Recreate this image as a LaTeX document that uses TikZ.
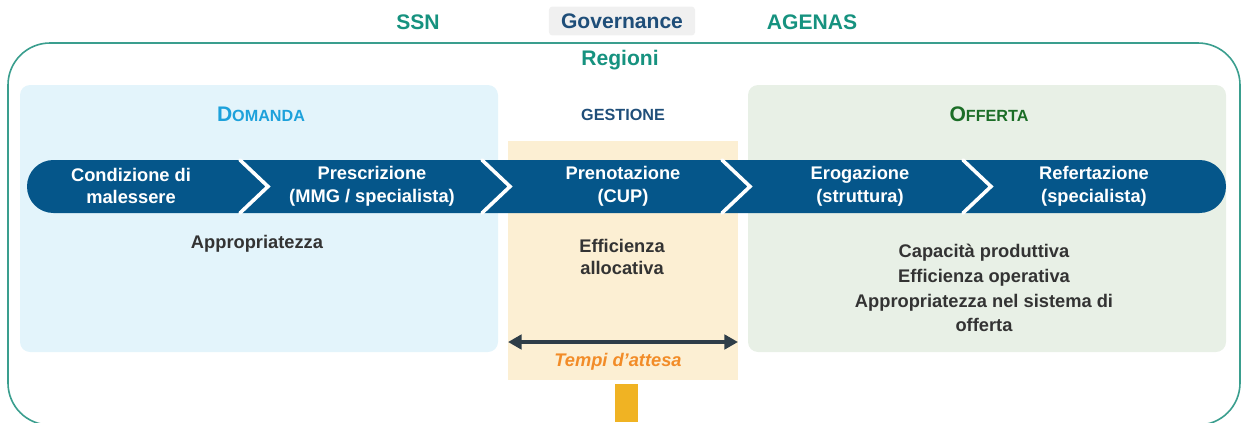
\documentclass[tikz,border=0pt]{standalone}
\usepackage{fontspec}
\setmainfont{Liberation Sans}
\usepackage{tikz}
\usetikzlibrary{arrows.meta}

\definecolor{ssnteal}{HTML}{16927F}
\definecolor{framegreen}{HTML}{3A9E8E}
\definecolor{govblue}{HTML}{1F4E79}
\definecolor{govgray}{HTML}{F0F0F0}
\definecolor{domblue}{HTML}{E3F4FB}
\definecolor{domtitle}{HTML}{1DA1DB}
\definecolor{offgreen}{HTML}{E8F0E6}
\definecolor{offtitle}{HTML}{1C6E27}
\definecolor{gestyellow}{HTML}{FCEFD3}
\definecolor{bandblue}{HTML}{05568A}
\definecolor{textgray}{HTML}{333333}
\definecolor{arrowdark}{HTML}{2E3D48}
\definecolor{tempiorange}{HTML}{F28C28}
\definecolor{baryellow}{HTML}{F0B323}

\begin{document}
\begin{tikzpicture}[x=0.025cm,y=-0.025cm,
  stage/.style={text=white,font=\fontsize{13}{16.3}\selectfont\bfseries,align=center},
  bodytext/.style={text=textgray,font=\fontsize{13}{17.7}\selectfont\bfseries,align=center},
  topname/.style={font=\fontsize{15}{18}\selectfont\bfseries},
  chevron/.style={white,line width=0.09cm,line cap=round}]
\clip (0,0) rectangle (1245,422);

% governance frame
\draw[framegreen, line width=0.04cm, rounded corners=1.05cm] (8,43) rectangle (1240,425);
\node[topname,text=ssnteal] (ssn) at (418,22) {SSN};
\node[topname,text=govblue,fill=govgray,rounded corners=0.08cm,minimum width=3.65cm,minimum height=0.72cm] (gov) at (622,21) {Governance};
\node[topname,text=ssnteal] (agenas) at (812,22) {AGENAS};
\node[topname,text=ssnteal] (regioni) at (620,60) {Regioni};

% the three areas
\fill[domblue, rounded corners=0.25cm] (20,85) rectangle (498,352);
\fill[offgreen, rounded corners=0.25cm] (748,85) rectangle (1226,352);
\fill[gestyellow] (508,141) rectangle (738,380);
\node[text=domtitle,font=\bfseries] (domanda) at (261,114) {\fontsize{15}{18}\selectfont D\fontsize{11.5}{14}\selectfont OMANDA};
\node[text=govblue,font=\fontsize{11.5}{14}\selectfont\bfseries] (gestione) at (623,115) {GESTIONE};
\node[text=offtitle,font=\bfseries] (offerta) at (989,114) {\fontsize{15}{18}\selectfont O\fontsize{11.5}{14}\selectfont FFERTA};

% process band
\fill[bandblue, rounded corners=0.66cm] (27,160) rectangle (1226,213);
\foreach \x in {240,482,722,963}
  \draw[chevron] (\x,160) -- (\x+28,186.5) -- (\x,213);
\node[stage] (malessere) at (131,186) {Condizione di\\malessere};
\node[stage] (prescrizione) at (372,186) {Prescrizione\\(MMG / specialista)};
\node[stage] (prenotazione) at (623,186) {Prenotazione\\(CUP)};
\node[stage] (erogazione) at (860,186) {Erogazione\\(struttura)};
\node[stage] (refertazione) at (1094,186) {Refertazione\\(specialista)};

% levers
\node[bodytext] (appropriatezza) at (257,244) {Appropriatezza};
\node[bodytext,font=\fontsize{13}{16.3}\selectfont\bfseries] (efficienza) at (622,257) {Efficienza\\allocativa};
\node[bodytext] (capacita) at (984,288) {Capacità produttiva\\Efficienza operativa\\Appropriatezza nel sistema di\\offerta};

% waiting times
\coordinate (attesa l) at (508,342);
\coordinate (attesa r) at (738,342);
\draw[arrowdark, line width=0.09cm, {Triangle[length=0.34cm,width=0.36cm]}-{Triangle[length=0.34cm,width=0.36cm]}] (attesa l) -- (attesa r);
\node[text=tempiorange,font=\fontsize{13}{16}\selectfont\bfseries\itshape] (tempi) at (618,362) {Tempi d’attesa};
\fill[baryellow] (615,384) rectangle (638,422);
\end{tikzpicture}
\end{document}
